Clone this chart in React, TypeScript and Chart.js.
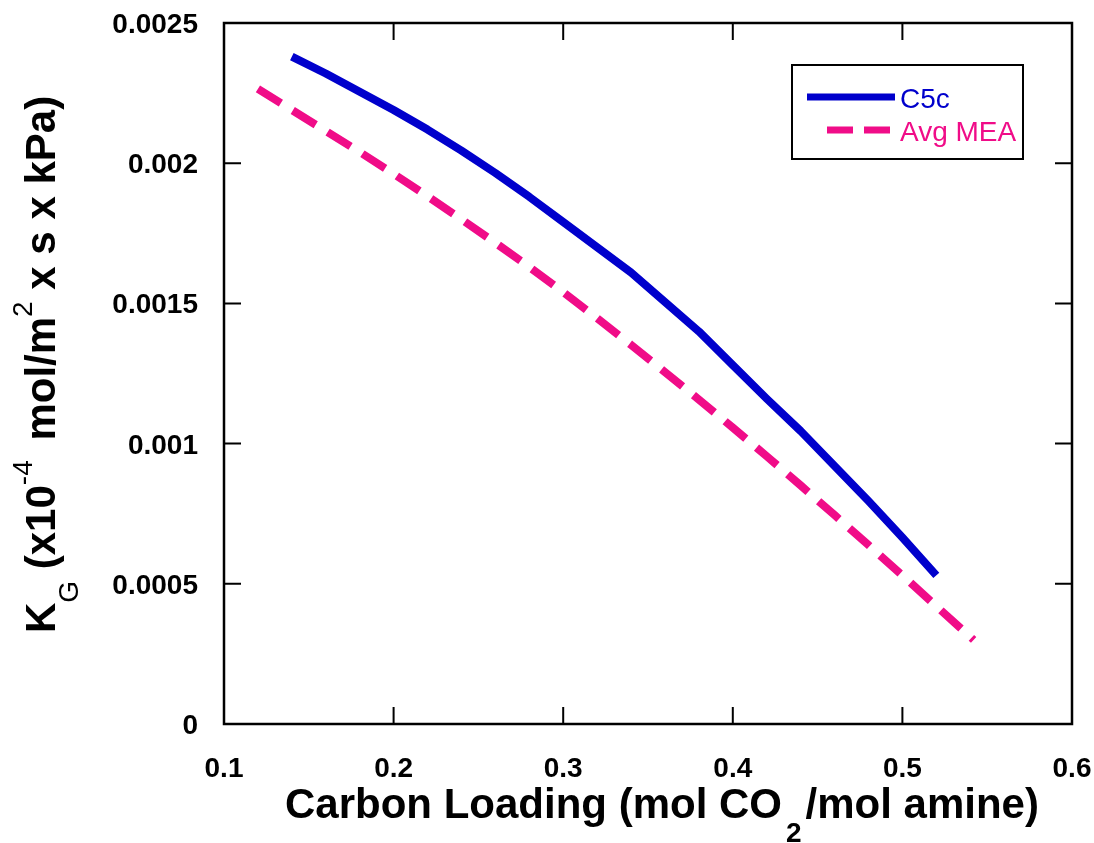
import React, { useEffect, useRef } from 'react';
import { Chart, registerables } from 'chart.js';

Chart.register(...registerables);

// ---- Data ----
const SERIES_NAMES = ['C5c', 'Avg MEA'];

const C5C_X = [0.14, 0.16, 0.18, 0.2, 0.22, 0.24, 0.26, 0.28, 0.3, 0.32, 0.34, 0.36, 0.38, 0.4, 0.42, 0.44, 0.46, 0.48, 0.5, 0.52];
const C5C_Y = [0.00238, 0.00232, 0.002255, 0.00219, 0.00212, 0.002045, 0.001965, 0.00188, 0.00179, 0.0017, 0.00161, 0.001505, 0.0014, 0.00128, 0.00116, 0.001045, 0.00092, 0.000795, 0.000665, 0.00053];

const MEA_X = [0.12, 0.14, 0.16, 0.18, 0.2, 0.22, 0.24, 0.26, 0.28, 0.3, 0.32, 0.34, 0.36, 0.38, 0.4, 0.42, 0.44, 0.46, 0.48, 0.5, 0.52, 0.542];
const MEA_Y = [0.002265, 0.00219, 0.002115, 0.00204, 0.001962, 0.001882, 0.0018, 0.001716, 0.00163, 0.00154, 0.001447, 0.001352, 0.001255, 0.001157, 0.001057, 0.000955, 0.000851, 0.000745, 0.000638, 0.00053, 0.00042, 0.0003];

const X_TICKS = [0.1, 0.2, 0.3, 0.4, 0.5, 0.6];
const X_TICK_LABELS = ['0.1', '0.2', '0.3', '0.4', '0.5', '0.6'];
const Y_TICKS = [0, 0.0005, 0.001, 0.0015, 0.002, 0.0025];
const Y_TICK_LABELS = ['0', '0.0005', '0.001', '0.0015', '0.002', '0.0025'];

const BLUE = '#0000CC';
const PINK = '#F00C88';
const FONT = '"Liberation Sans", Arial, Helvetica, sans-serif';

type Run = { text: string; font: string; dy: number; padL?: number; padR?: number };

function drawRuns(ctx: CanvasRenderingContext2D, runs: Run[], x: number, y: number) {
  let cx = x;
  for (const r of runs) {
    cx += r.padL || 0;
    ctx.font = r.font;
    ctx.fillText(r.text, cx, y + r.dy);
    cx += ctx.measureText(r.text).width + (r.padR || 0);
  }
}

const decorPlugin = {
  id: 'decor',
  afterDatasetsDraw(chart: any) {
    const ctx: CanvasRenderingContext2D = chart.ctx;
    const xs = chart.scales.x;
    const ys = chart.scales.y;
    const { left, right, top, bottom } = chart.chartArea;
    ctx.save();

    // frame
    ctx.strokeStyle = '#000';
    ctx.lineWidth = 2.5;
    ctx.strokeRect(left, top, right - left, bottom - top);

    // inward ticks on all sides
    const TL = 17;
    ctx.lineWidth = 2;
    ctx.beginPath();
    X_TICKS.forEach((v) => {
      const px = xs.getPixelForValue(v);
      ctx.moveTo(px, bottom);
      ctx.lineTo(px, bottom - TL);
      ctx.moveTo(px, top);
      ctx.lineTo(px, top + TL);
    });
    Y_TICKS.forEach((v) => {
      const py = ys.getPixelForValue(v);
      ctx.moveTo(left, py);
      ctx.lineTo(left + TL, py);
      ctx.moveTo(right, py);
      ctx.lineTo(right - TL, py);
    });
    ctx.stroke();

    // tick labels
    ctx.fillStyle = '#000';
    ctx.font = `bold 28px ${FONT}`;
    ctx.textBaseline = 'alphabetic';
    ctx.textAlign = 'center';
    X_TICKS.forEach((v, i) => {
      ctx.fillText(X_TICK_LABELS[i], xs.getPixelForValue(v), bottom + 53);
    });
    ctx.textAlign = 'right';
    Y_TICKS.forEach((v, i) => {
      ctx.fillText(Y_TICK_LABELS[i], left - 26, ys.getPixelForValue(v) + 10);
    });

    // x title
    ctx.textAlign = 'left';
    const big = `bold 42px ${FONT}`;
    drawRuns(
      ctx,
      [
        { text: 'Carbon Loading (mol CO', font: big, dy: 0 },
        { text: '2', font: `bold 28px ${FONT}`, dy: 24, padL: 4, padR: 4 },
        { text: '/mol amine)', font: big, dy: 0 },
      ],
      285,
      bottom + 94
    );

    // y title (rotated)
    ctx.save();
    ctx.translate(55, 633);
    ctx.rotate(-Math.PI / 2);
    const small = `28px ${FONT}`;
    drawRuns(
      ctx,
      [
        { text: 'K', font: big, dy: 0 },
        { text: 'G', font: small, dy: 23 },
        { text: ' (x10', font: big, dy: 0 },
        { text: '-4', font: small, dy: -23 },
        { text: ' mol/m', font: big, dy: 0, padL: 8 },
        { text: '2', font: small, dy: -23 },
        { text: ' x s x kPa)', font: big, dy: 0 },
      ],
      0,
      0
    );
    ctx.restore();

    // legend
    const lx = 792, ly = 65, lw = 231, lh = 94;
    ctx.strokeStyle = '#000';
    ctx.lineWidth = 2;
    ctx.setLineDash([]);
    ctx.strokeRect(lx, ly, lw, lh);

    ctx.lineWidth = 7;
    ctx.strokeStyle = BLUE;
    ctx.beginPath();
    ctx.moveTo(807, 97);
    ctx.lineTo(895, 97);
    ctx.stroke();

    ctx.strokeStyle = PINK;
    ctx.setLineDash([26, 11]);
    ctx.beginPath();
    ctx.moveTo(827, 130);
    ctx.lineTo(890, 130);
    ctx.stroke();
    ctx.setLineDash([]);

    ctx.font = `28px ${FONT}`;
    ctx.textAlign = 'left';
    ctx.fillStyle = BLUE;
    ctx.fillText(SERIES_NAMES[0], 900, 108);
    ctx.fillStyle = PINK;
    ctx.fillText(SERIES_NAMES[1], 900, 141);

    ctx.restore();
  },
};

export default function App() {
  const ref = useRef<HTMLCanvasElement | null>(null);

  useEffect(() => {
    if (!ref.current) return;
    const chart = new Chart(ref.current, {
      type: 'line',
      data: {
        datasets: [
          {
            label: SERIES_NAMES[0],
            data: C5C_X.map((x, i) => ({ x, y: C5C_Y[i] })),
            borderColor: BLUE,
            borderWidth: 8,
            pointRadius: 0,
            fill: false,
            tension: 0,
            borderCapStyle: 'butt',
            borderJoinStyle: 'round',
          },
          {
            label: SERIES_NAMES[1],
            data: MEA_X.map((x, i) => ({ x, y: MEA_Y[i] })),
            borderColor: PINK,
            borderWidth: 8,
            borderDash: [27, 14],
            pointRadius: 0,
            fill: false,
            tension: 0,
            borderCapStyle: 'butt',
            borderJoinStyle: 'round',
          },
        ],
      },
      options: {
        animation: false,
        responsive: false,
        layout: { padding: { left: 224, top: 23, right: 22, bottom: 119 } },
        plugins: { legend: { display: false }, tooltip: { enabled: false } },
        scales: {
          x: { type: 'linear', min: 0.1, max: 0.6, display: false },
          y: { type: 'linear', min: 0, max: 0.0025, display: false },
        },
      },
      plugins: [decorPlugin],
    });
    return () => chart.destroy();
  }, []);

  return (
    <div style={{ position: 'fixed', left: 0, top: 0, width: 1094, height: 843, background: '#fff' }}>
      <canvas ref={ref} width={1094} height={843} style={{ display: 'block' }} />
    </div>
  );
}
